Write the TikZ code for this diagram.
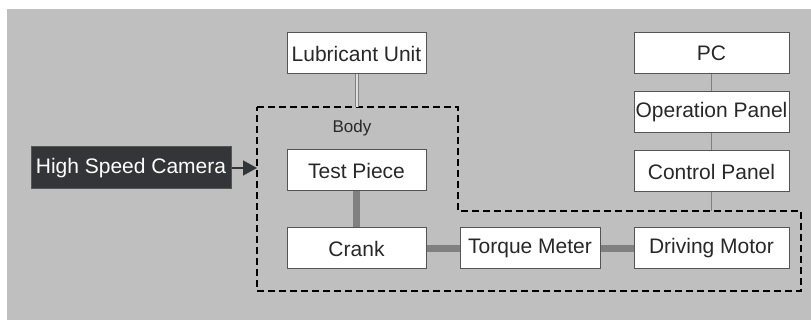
\documentclass[tikz,border=0pt]{standalone}
\usepackage{fontspec}
\setmainfont{Liberation Sans}
\usetikzlibrary{positioning}
\usetikzlibrary{arrows.meta}
\definecolor{bggray}{RGB}{192,191,192}
\definecolor{boxline}{RGB}{85,85,85}
\definecolor{camfill}{RGB}{51,53,56}
\definecolor{shaft}{RGB}{128,128,128}
\definecolor{txtgray}{RGB}{40,40,40}
\tikzset {
  % path styles
  body line/.style = {
    draw = black,
    line width = 1.8pt,
    dash pattern = on 7pt off 4pt
  },
  % thick mechanical link
  shaft line/.style = {
    draw = shaft,
    line width = 7pt
  },
  % signal wire
  wire/.style = {
    draw = shaft,
    line width = 1.5pt
  },
  oil line/.style = {
    draw = shaft,
    line width = 1pt,
    double = bggray!50!white,
    double distance = 2pt
  },
  cam arrow/.style = {
    draw = camfill,
    line width = 1.5pt,
    -{Triangle[length=14pt,width=15pt]}
  }
}
\tikzset {
  unit/.style = {
    draw = boxline,
    fill = white,
    line width = 1pt,
    minimum height = 41pt,
    minimum width = 139pt,
    inner sep = 0pt,
    text = txtgray,
    font = \fontsize{21}{24}\selectfont
  },
  % wide box on the right
  wide unit/.style = {
    unit,
    minimum width = 155pt
  },
  % dark camera box
  camera unit/.style = {
    unit,
    fill = camfill,
    text = white,
    minimum width = 200pt,
    minimum height = 42pt
  },
  body label/.style = {
    text = txtgray,
    font = \fontsize{17}{20}\selectfont
  }
}

\begin{document}
\begin{tikzpicture}[x=1pt, y=-1pt]
    \useasboundingbox (0,0) rectangle (811,320);
    \fill[bggray] (7,9) rectangle (811,320);

    \node[unit] (crank) at (356.5,248.5) {Crank};
    \node[unit] (test) [above=36pt of crank] {Test Piece};
    \node[unit, minimum width=140pt] (torque) [right=33pt of crank] {Torque Meter};
    \node[wide unit] (motor) [right=33pt of torque] {Driving Motor};
    \node[wide unit] (control) [above=35pt of motor] {Control Panel};
    \node[wide unit] (operation) [above=17pt of control] {Operation Panel};
    \node[wide unit] (pc) [above=17pt of operation] {PC};
    \node[unit] (lub) [above=75pt of test] {Lubricant Unit};
    \node[camera unit] (camera) [left=55pt of test, yshift=2.5pt] {High Speed Camera};
    \node[body label] (body) at (352,128) {Body};

    % body outline
    \draw[body line] (257,107) -- (458,107) -- (458,211) -- (801,211)
      -- (801,291) -- (257,291) -- cycle;
    \coordinate (bodytopline) at (0,107);
    \coordinate (bodystep) at (0,211);
    \coordinate (bodyleft) at (257,0);
    \coordinate (lubend) at (lub.south |- bodytopline);
    \coordinate (wireend) at (control.south |- bodystep);
    \coordinate (camend) at (camera.east -| bodyleft);

    \draw[oil line] (lub.south) -- (lubend);
    \draw[wire] (pc) -- (operation);
    \draw[wire] (operation) -- (control);
    \draw[wire] (control.south) -- (wireend);
    \draw[shaft line] (test) -- (crank);
    \draw[shaft line] (crank) -- (torque);
    \draw[shaft line] (torque) -- (motor);
    \draw[cam arrow] (camera.east) -- (camend);
\end{tikzpicture}
\end{document}
